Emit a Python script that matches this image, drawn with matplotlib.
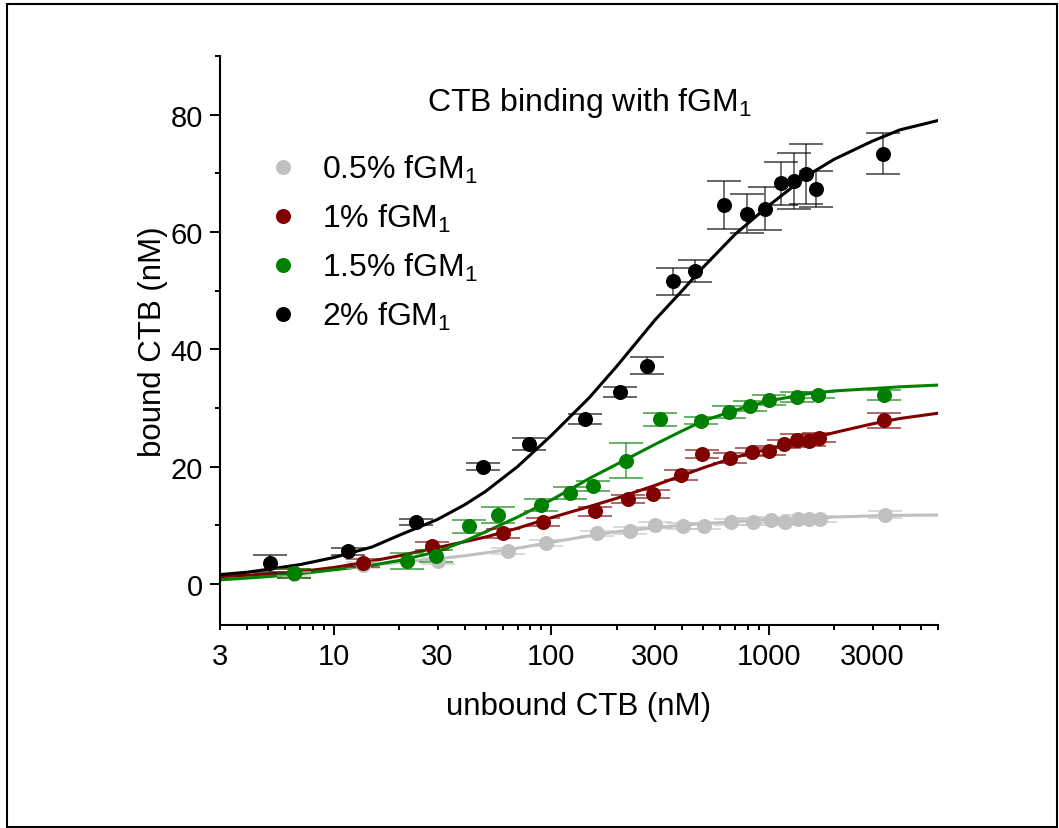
import matplotlib
matplotlib.use("Agg")
import matplotlib.pyplot as plt
from matplotlib.ticker import FixedLocator, FuncFormatter, NullFormatter
from matplotlib.patches import Rectangle

plt.rcParams['font.family'] = ['Liberation Sans', 'DejaVu Sans']
plt.rcParams['mathtext.fontset'] = 'custom'
plt.rcParams['mathtext.rm'] = 'Liberation Sans'
plt.rcParams['mathtext.it'] = 'Liberation Sans:italic'

# ---------- data ----------
labels = ['0.5% fGM$_1$', '1% fGM$_1$', '1.5% fGM$_1$', '2% fGM$_1$']
colors = ['#c0c0c0', '#800000', '#008000', '#000000']

gray_x = [6.6, 13.6, 30, 63, 94.5, 163, 230, 299, 402, 505, 674, 846, 1019, 1191, 1362, 1531, 1715, 3420]
gray_y = [1.7, 3.3, 3.9, 5.6, 7.0, 8.6, 9.1, 10.1, 9.9, 9.9, 10.6, 10.6, 10.9, 10.5, 11.1, 11.0, 11.1, 11.8]
gray_err = [0.4, 0.5, 0.5, 0.5, 0.5, 0.5, 0.6, 0.5, 0.5, 0.5, 0.5, 0.6, 0.5, 0.5, 0.6, 0.5, 0.5, 0.6]

red_x = [6.6, 13.6, 28.2, 60, 92, 159, 226, 294, 393, 493, 663, 834, 1005, 1178, 1348, 1525, 1694, 3405]
red_y = [1.8, 3.6, 6.5, 8.6, 10.6, 12.4, 14.5, 15.3, 18.6, 22.1, 21.5, 22.5, 22.7, 23.9, 24.5, 24.4, 24.9, 27.9]
red_err = [0.8, 0.7, 0.7, 0.7, 0.7, 0.75, 0.7, 0.65, 0.85, 0.7, 0.8, 0.75, 0.75, 0.7, 1.1, 0.95, 0.75, 1.3]

green_x = [6.6, 21.8, 29.5, 42, 57, 90, 122, 155, 220, 315, 488, 656, 824, 998, 1343, 1690, 3395]
green_y = [1.8, 3.9, 4.8, 9.8, 11.8, 13.5, 15.5, 16.7, 21.0, 28.1, 27.8, 29.3, 30.4, 31.3, 31.9, 32.2, 32.2]
green_err = [0.8, 1.3, 1.0, 1.1, 1.4, 1.0, 1.1, 0.8, 3.0, 1.1, 0.6, 1.0, 0.85, 0.85, 0.9, 0.55, 0.85]

black_x = [5.07, 11.6, 23.9, 48.5, 79.2, 143, 208, 275, 361, 460, 622, 796, 963, 1133, 1306, 1476, 1653, 3357]
black_y = [3.5, 5.6, 10.5, 20.0, 23.8, 28.1, 32.7, 37.2, 51.6, 53.4, 64.6, 63.1, 64.0, 68.3, 68.7, 69.9, 67.3, 73.3]
black_err = [1.4, 0.6, 0.5, 0.6, 1.0, 0.9, 0.85, 1.45, 2.3, 1.9, 4.1, 3.3, 3.7, 3.7, 4.7, 5.1, 3.1, 3.5]

# fitted curves at these x values
fit_x = [3, 4, 5, 7, 10, 15, 20, 30, 40, 50, 70, 100, 150, 200, 300, 400, 500, 700,
         1000, 1500, 2000, 3000, 4000, 6000]
gray_fit_y = [1.0, 1.25, 1.5, 2.0, 2.5, 3.2, 3.7, 4.3, 4.8, 5.3, 6.1, 7.1, 8.2, 8.9, 9.6,
              10.0, 10.3, 10.6, 10.95, 11.2, 11.4, 11.6, 11.7, 11.75]
red_fit_y = [1.25, 1.5, 1.7, 2.1, 2.8, 3.9, 4.8, 6.2, 7.2, 8.0, 9.5, 11.3, 13.2, 14.6, 16.8,
             18.5, 19.8, 21.6, 23.0, 24.6, 25.8, 27.3, 28.2, 29.1]
green_fit_y = [0.7, 1.0, 1.25, 1.75, 2.4, 3.2, 4.0, 5.5, 7.3, 8.9, 11.4, 14.3, 18.0, 20.4, 23.8,
               26.1, 27.8, 29.6, 31.2, 32.4, 32.9, 33.3, 33.6, 33.9]
black_fit_y = [1.6, 2.0, 2.5, 3.3, 4.5, 6.3, 8.3, 11.0, 13.5, 15.8, 20.0, 25.3, 31.8, 37.1, 45.0,
               50.0, 54.0, 59.6, 64.5, 69.6, 72.4, 75.5, 77.4, 79.0]

series = [
    (gray_x, gray_y, gray_err, gray_fit_y),
    (red_x, red_y, red_err, red_fit_y),
    (green_x, green_y, green_err, green_fit_y),
    (black_x, black_y, black_err, black_fit_y),
]

# ---------- figure ----------
fig = plt.figure(figsize=(10.59, 8.29), dpi=100)
ax = fig.add_axes([220 / 1059, 1 - 626 / 829, 718 / 1059, 569 / 829])

for (xs, ys, es, fy), c, lab in zip(series, colors, labels):
    ax.plot(fit_x, fy, color=c, lw=2.2, zorder=2, solid_joinstyle='round')
    ax.errorbar(xs, ys, yerr=es, fmt='none', ecolor=c, alpha=0.6,
                elinewidth=1.3, capsize=12, capthick=1.4, zorder=3)
    ax.plot(xs, ys, 'o', color=c, ms=9.8, mec=c, label=lab, zorder=4)

ax.set_xscale('log')
ax.set_xlim(3, 6000)
ax.set_ylim(-7, 90)

ax.xaxis.set_major_locator(FixedLocator([10, 100, 1000]))
ax.xaxis.set_major_formatter(FuncFormatter(lambda v, p: '%d' % round(v)))
minor_x = [m * d for d in (1, 10, 100, 1000) for m in range(2, 10) if 3 <= m * d <= 6000]
ax.xaxis.set_minor_locator(FixedLocator(minor_x))
ax.xaxis.set_minor_formatter(FuncFormatter(
    lambda v, p: '%d' % round(v) if round(v) in (3, 30, 300, 3000) else ''))

ax.yaxis.set_major_locator(FixedLocator([0, 20, 40, 60, 80]))
ax.yaxis.set_minor_locator(FixedLocator([10, 30, 50, 70, 90]))
ax.yaxis.set_minor_formatter(NullFormatter())

for s in ['top', 'right']:
    ax.spines[s].set_visible(False)
for s in ['left', 'bottom']:
    ax.spines[s].set_linewidth(1.5)

ax.tick_params(which='major', direction='out', length=7.2, width=1.4, labelsize=21, pad=5)
ax.tick_params(which='minor', direction='out', length=3.6, width=1.4, labelsize=21)
ax.tick_params(axis='x', which='minor', pad=5 + 3.6)

ax.set_xlabel('unbound CTB (nM)', fontsize=22.5, labelpad=15)
ax.set_ylabel('bound CTB (nM)', fontsize=22.5, labelpad=2)

ax.text(0.515, 0.919, 'CTB binding with fGM$_1$', transform=ax.transAxes,
        ha='center', va='center', fontsize=23)

ax.legend(loc='upper left', bbox_to_anchor=(0.0655, 0.83), frameon=False,
          fontsize=23, handletextpad=0.72, labelspacing=0.53, handlelength=1.0,
          borderaxespad=0, borderpad=0)

fig.patches.append(Rectangle((7 / 1059, 1 / 829), 1050 / 1059, 823 / 829,
                             transform=fig.transFigure, fill=False,
                             edgecolor='black', lw=1.5))

fig.savefig('out.png', dpi=100)
